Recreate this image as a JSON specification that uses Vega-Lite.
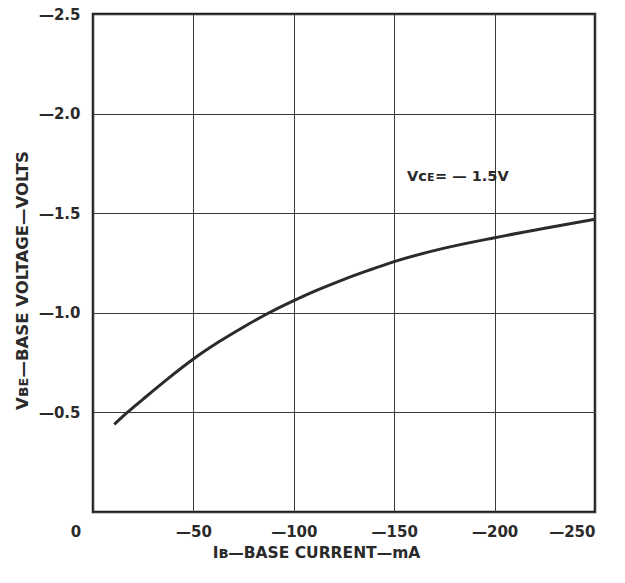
{
  "$schema": "https://vega.github.io/schema/vega-lite/v6.json",
  "width": 502,
  "height": 498,
  "autosize": {"type": "none"},
  "padding": {"left": 93, "top": 14, "right": 30, "bottom": 71},
  "background": "white",
  "config": {
    "view": {"stroke": "#1e1e1e", "strokeWidth": 2.5},
    "font": "DejaVu Sans",
    "axis": {
      "domain": false,
      "ticks": false,
      "gridColor": "#3a3a3a",
      "gridOpacity": 1,
      "gridWidth": 1,
      "labelFont": "DejaVu Sans",
      "labelFontWeight": "bold",
      "labelFontSize": 15,
      "labelColor": "#2a2a2a",
      "titleFont": "DejaVu Sans",
      "titleFontWeight": "bold",
      "titleFontSize": 15,
      "titleColor": "#2a2a2a"
    }
  },
  "layer": [
    {
      "data": {
        "values": [
          {"IB": -10.6, "VBE": -0.44},
          {"IB": -16, "VBE": -0.49},
          {"IB": -25, "VBE": -0.567},
          {"IB": -37.5, "VBE": -0.671},
          {"IB": -50, "VBE": -0.768},
          {"IB": -62.5, "VBE": -0.853},
          {"IB": -75, "VBE": -0.929},
          {"IB": -87.5, "VBE": -0.999},
          {"IB": -100, "VBE": -1.061},
          {"IB": -112.5, "VBE": -1.117},
          {"IB": -125, "VBE": -1.168},
          {"IB": -137.5, "VBE": -1.214},
          {"IB": -150, "VBE": -1.257},
          {"IB": -175, "VBE": -1.3245},
          {"IB": -200, "VBE": -1.377},
          {"IB": -225, "VBE": -1.4245},
          {"IB": -250, "VBE": -1.4695}
        ]
      },
      "mark": {"type": "line", "color": "#2b2b2b", "strokeWidth": 3, "interpolate": "monotone"},
      "encoding": {
        "x": {
          "field": "IB",
          "type": "quantitative",
          "scale": {"domain": [0, -250], "nice": false, "zero": false},
          "axis": {
            "values": [0, -50, -100, -150, -200, -250],
            "labelExpr": "datum.value == 0 ? '' : '—' + format(-datum.value, 'd')",
            "labelPadding": 12,
            "title": "Iʙ—BASE CURRENT—mA",
            "titleFontSize": 15.5,
            "titleX": 223,
            "titlePadding": 6
          }
        },
        "y": {
          "field": "VBE",
          "type": "quantitative",
          "scale": {"domain": [0, -2.5], "nice": false, "zero": false},
          "axis": {
            "values": [0, -0.5, -1, -1.5, -2, -2.5],
            "labelExpr": "datum.value == 0 ? '' : '—' + format(-datum.value, '.1f')",
            "labelPadding": 13,
            "title": "Vʙᴇ—BASE VOLTAGE—VOLTS",
            "titleFontSize": 16.5,
            "titleY": 266,
            "titlePadding": 8
          }
        }
      }
    },
    {
      "data": {"values": [{"IB": -156.4, "VBE": -1.68, "label": "Vᴄᴇ= — 1.5V"}]},
      "mark": {"type": "text", "align": "left", "baseline": "middle", "font": "DejaVu Sans", "fontWeight": "bold", "fontSize": 14.5, "color": "#2a2a2a"},
      "encoding": {
        "x": {"field": "IB", "type": "quantitative"},
        "y": {"field": "VBE", "type": "quantitative"},
        "text": {"field": "label"}
      }
    },
    {
      "data": {"values": [{"IB": 0, "VBE": 0, "label": "0"}]},
      "mark": {"type": "text", "align": "center", "baseline": "middle", "dx": -17, "dy": 20, "font": "DejaVu Sans", "fontWeight": "bold", "fontSize": 15, "color": "#2a2a2a"},
      "encoding": {
        "x": {"field": "IB", "type": "quantitative"},
        "y": {"field": "VBE", "type": "quantitative"},
        "text": {"field": "label"}
      }
    }
  ]
}
